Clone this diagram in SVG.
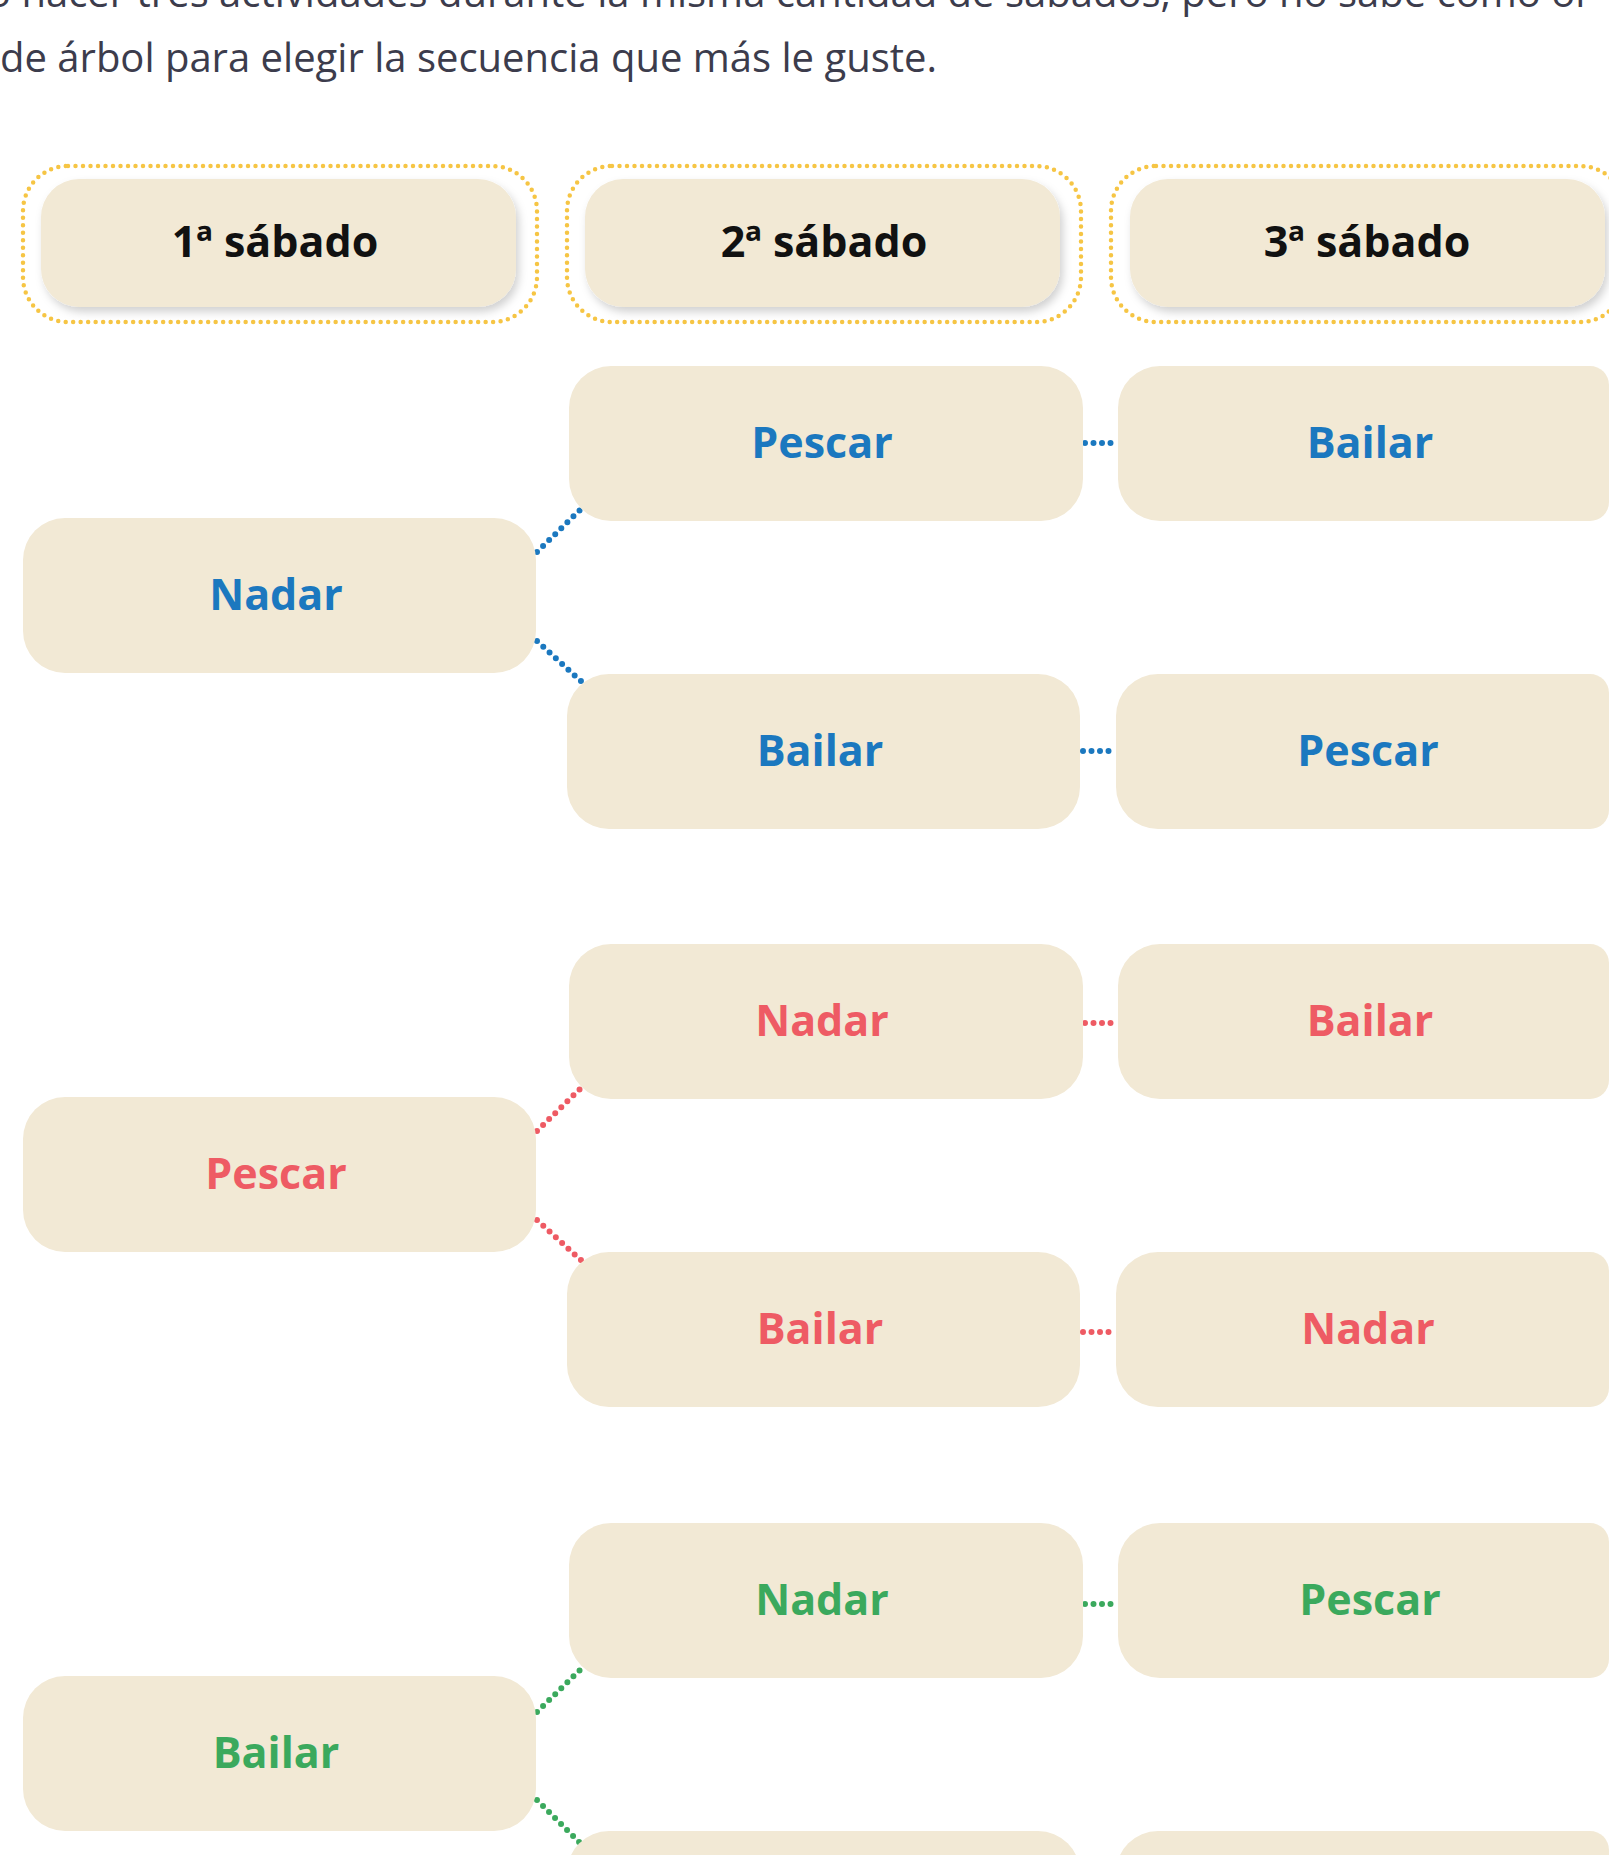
<svg xmlns="http://www.w3.org/2000/svg" width="1609" height="1855" viewBox="0 0 1609 1855">
<defs>
<style>
.intro{font-family:"Open Sans","Liberation Sans",sans-serif;font-size:40px;fill:#3c3c4c}
.hdr-out{fill:none;stroke:#f6c544;stroke-width:4.5;stroke-dasharray:0 7.5;stroke-linecap:round}
.hdr-in{fill:#f2e9d5;filter:url(#sh)}
.hdr-t{font-family:"Open Sans","Liberation Sans",sans-serif;font-weight:700;font-size:43px;fill:#111;text-anchor:middle}
.box{fill:#f2e9d5}
.lbl{font-family:"Open Sans","Liberation Sans",sans-serif;font-weight:700;font-size:43px;text-anchor:middle}
.blue{fill:#1b78bf}
.red{fill:#ee5b64}
.green{fill:#3ba95d}
.con{fill:none;stroke-width:6;stroke-dasharray:0 8.5;stroke-linecap:round}
.cb{stroke:#1b78bf}
.cr{stroke:#ee5b64}
.cg{stroke:#3ba95d}
</style>
<filter id="sh" x="-10%" y="-20%" width="120%" height="150%">
<feDropShadow dx="3" dy="5" stdDeviation="4" flood-color="#000" flood-opacity="0.18"/>
</filter>
</defs>
<rect width="1609" height="1855" fill="#ffffff"/>
<g id="intro">
<text class="intro" x="-13" y="7">o hacer tres actividades durante la misma cantidad de sábados, pero no sabe cómo or</text>
<text class="intro" x="0" y="72">de árbol para elegir la secuencia que más le guste.</text>
</g>
<g id="header-1">
<rect class="hdr-out" x="23" y="166" width="514" height="156" rx="45"/>
<rect class="hdr-in" x="41" y="179" width="475" height="128" rx="38"/>
<text class="hdr-t" x="275" y="257">1ª sábado</text>
</g>
<g id="header-2">
<rect class="hdr-out" x="567" y="166" width="514" height="156" rx="45"/>
<rect class="hdr-in" x="585" y="179" width="475" height="128" rx="38"/>
<text class="hdr-t" x="824" y="257">2ª sábado</text>
</g>
<g id="header-3">
<rect class="hdr-out" x="1111" y="166" width="514" height="156" rx="45"/>
<rect class="hdr-in" x="1130" y="179" width="475" height="128" rx="38"/>
<text class="hdr-t" x="1367" y="257">3ª sábado</text>
</g>
<g id="connectors">
<path class="con cb" d="M537,552 L583,507"/>
<path class="con cb" d="M537,641 L583,683"/>
<path class="con cb" d="M1085,443 H1117"/>
<path class="con cb" d="M1083,751 H1116"/>
<path class="con cr" d="M537,1131 L583,1086"/>
<path class="con cr" d="M537,1220 L583,1262"/>
<path class="con cr" d="M1085,1023 H1117"/>
<path class="con cr" d="M1083,1332 H1116"/>
<path class="con cg" d="M537,1712 L583,1667"/>
<path class="con cg" d="M537,1800 L580,1843"/>
<path class="con cg" d="M1085,1604 H1117"/>
</g>
<g id="n1-nadar"><rect class="box" x="23" y="518" width="513" height="155" rx="42"/><text class="lbl blue" x="276" y="610">Nadar</text></g>
<g id="n2-pescar"><rect class="box" x="569" y="366" width="514" height="155" rx="42"/><text class="lbl blue" x="822" y="458">Pescar</text></g>
<g id="n3-bailar"><path class="box" d="M1160,366 H1590 A19,19 0 0 1 1609,385 V502 A19,19 0 0 1 1590,521 H1160 A42,42 0 0 1 1118,479 V408 A42,42 0 0 1 1160,366 Z"/><text class="lbl blue" x="1370" y="458">Bailar</text></g>
<g id="n2-bailar"><rect class="box" x="567" y="674" width="513" height="155" rx="42"/><text class="lbl blue" x="820" y="766">Bailar</text></g>
<g id="n3-pescar"><path class="box" d="M1158,674 H1590 A19,19 0 0 1 1609,693 V810 A19,19 0 0 1 1590,829 H1158 A42,42 0 0 1 1116,787 V716 A42,42 0 0 1 1158,674 Z"/><text class="lbl blue" x="1368" y="766">Pescar</text></g>

<g id="n1-pescar"><rect class="box" x="23" y="1097" width="513" height="155" rx="42"/><text class="lbl red" x="276" y="1189">Pescar</text></g>
<g id="n2-nadar"><rect class="box" x="569" y="944" width="514" height="155" rx="42"/><text class="lbl red" x="822" y="1036">Nadar</text></g>
<g id="n3-bailar-2"><path class="box" d="M1160,944 H1590 A19,19 0 0 1 1609,963 V1080 A19,19 0 0 1 1590,1099 H1160 A42,42 0 0 1 1118,1057 V986 A42,42 0 0 1 1160,944 Z"/><text class="lbl red" x="1370" y="1036">Bailar</text></g>
<g id="n2-bailar-2"><rect class="box" x="567" y="1252" width="513" height="155" rx="42"/><text class="lbl red" x="820" y="1344">Bailar</text></g>
<g id="n3-nadar"><path class="box" d="M1158,1252 H1590 A19,19 0 0 1 1609,1271 V1388 A19,19 0 0 1 1590,1407 H1158 A42,42 0 0 1 1116,1365 V1294 A42,42 0 0 1 1158,1252 Z"/><text class="lbl red" x="1368" y="1344">Nadar</text></g>

<g id="n1-bailar"><rect class="box" x="23" y="1676" width="513" height="155" rx="42"/><text class="lbl green" x="276" y="1768">Bailar</text></g>
<g id="n2-nadar-2"><rect class="box" x="569" y="1523" width="514" height="155" rx="42"/><text class="lbl green" x="822" y="1615">Nadar</text></g>
<g id="n3-pescar-2"><path class="box" d="M1160,1523 H1590 A19,19 0 0 1 1609,1542 V1659 A19,19 0 0 1 1590,1678 H1160 A42,42 0 0 1 1118,1636 V1565 A42,42 0 0 1 1160,1523 Z"/><text class="lbl green" x="1370" y="1615">Pescar</text></g>
<g id="n2-partial"><rect class="box" x="567" y="1831" width="513" height="155" rx="42"/></g>
<g id="n3-partial"><path class="box" d="M1158,1831 H1590 A19,19 0 0 1 1609,1850 V1986 H1116 V1873 A42,42 0 0 1 1158,1831 Z"/></g>
</svg>
